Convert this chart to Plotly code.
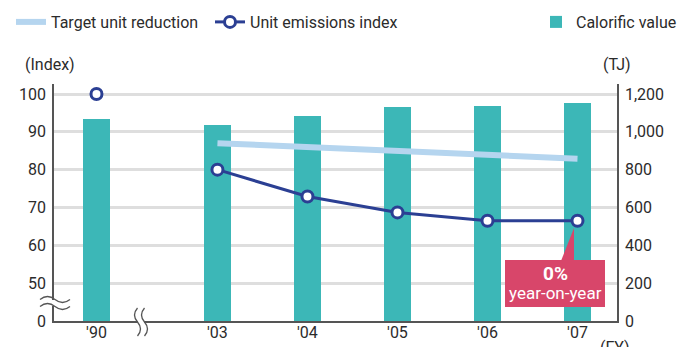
import plotly.graph_objects as go

# ---------------- data ----------------
years = ["'90", "'03", "'04", "'05", "'06", "'07"]
calorific_tj = [1068, 1036, 1084, 1131, 1137, 1154]
emissions_index = [100, 80, 72.9, 68.7, 66.5, 66.5]
target_years = ["'03", "'07"]
target_index = [87, 82.9]

tj_tickvals = [0, 200, 400, 600, 800, 1000, 1200]
tj_ticktext = ["0", "200", "400", "600", "800", "1,000", "1,200"]
index_tickvals = [40, 50, 60, 70, 80, 90, 100]   # axis broken: bottom shown as 0
index_ticktext = ["0", "50", "60", "70", "80", "90", "100"]

# ---------------- style ----------------
FONT = "Roboto, Liberation Sans, sans-serif"
TXT = "#2b2b2b"
TEAL = "#3cb7b7"
NAVY = "#2b3f93"
LIGHT = "#b5d5ef"
CRIMSON = "#d8466a"
AXIS = "#555555"
GRID = "#dedede"

W, H = 682, 347
L, R, T, B = 54, 617, 84, 321
BREAK_GAP = 0.344
xpos = {y: i + (BREAK_GAP if i > 0 else 0) for i, y in enumerate(years)}
xs = [xpos[y] for y in years]


def px(x):
    return x / W


def py(y):
    return (H - y) / H


fig = go.Figure()

fig.add_trace(go.Bar(
    x=xs, y=calorific_tj, width=0.3, marker=dict(color=TEAL, line=dict(width=0)),
    name="Calorific value", yaxis="y", legend="legend2", showlegend=True,
))

fig.add_trace(go.Scatter(
    x=[xpos[y] for y in target_years], y=target_index, mode="lines",
    line=dict(color=LIGHT, width=6), name="Target unit reduction", yaxis="y2",
    legend="legend",
))

fig.add_trace(go.Scatter(
    x=xs[1:], y=emissions_index[1:], mode="lines+markers",
    line=dict(color=NAVY, width=3),
    marker=dict(size=11, color="white", line=dict(color=NAVY, width=3)),
    name="Unit emissions index", yaxis="y2", legend="legend",
))
fig.add_trace(go.Scatter(
    x=xs[:1], y=emissions_index[:1], mode="markers",
    marker=dict(size=11, color="white", line=dict(color=NAVY, width=3)),
    name="Unit emissions index", yaxis="y2", showlegend=False,
))

shapes = []
# callout box + pointer
shapes.append(dict(type="rect", xref="paper", yref="paper",
                   x0=px(505), x1=px(605), y0=py(307), y1=py(260),
                   fillcolor=CRIMSON, line=dict(width=0), layer="above"))
shapes.append(dict(type="path", xref="paper", yref="paper",
                   path=f"M{px(561)},{py(261)} L{px(574)},{py(261)} L{px(574)},{py(228)} Z",
                   fillcolor=CRIMSON, line=dict(width=0), layer="above"))

# axis break marks
shapes.append(dict(type="rect", xref="paper", yref="paper",
                   x0=px(51), x1=px(57), y0=py(306), y1=py(300),
                   fillcolor="white", line=dict(width=0), layer="above"))
for yc in (299.5, 306.5):
    x0, x1 = 40, 70
    a = 3
    path = (f"M{px(x0)},{py(yc)} Q{px(x0+7.5)},{py(yc-a*2)} {px(x0+15)},{py(yc)} "
            f"T{px(x1)},{py(yc)}")
    shapes.append(dict(type="path", xref="paper", yref="paper", path=path,
                       line=dict(color=AXIS, width=1.3), layer="above"))
shapes.append(dict(type="rect", xref="paper", yref="paper",
                   x0=px(138), x1=px(144), y0=py(323), y1=py(319),
                   fillcolor="white", line=dict(width=0), layer="above"))
for xc in (137.5, 144.5):
    y0, y1 = 308, 336
    a = 3
    path = (f"M{px(xc)},{py(y0)} Q{px(xc-a*2)},{py(y0+7)} {px(xc)},{py(y0+14)} "
            f"T{px(xc)},{py(y1)}")
    shapes.append(dict(type="path", xref="paper", yref="paper", path=path,
                       line=dict(color=AXIS, width=1.3), layer="above"))

annotations = [
    dict(text="(Index)", xref="paper", yref="paper", x=px(50), y=py(65),
         xanchor="center", yanchor="middle", showarrow=False,
         font=dict(family=FONT, size=16, color=TXT)),
    dict(text="(TJ)", xref="paper", yref="paper", x=px(617), y=py(65),
         xanchor="center", yanchor="middle", showarrow=False,
         font=dict(family=FONT, size=16, color=TXT)),
    dict(text="(FY)", xref="paper", yref="paper", x=px(615), y=py(336),
         xanchor="center", yanchor="top", showarrow=False,
         font=dict(family=FONT, size=16, color=TXT)),
    dict(text="<b>0%</b>", xref="paper", yref="paper", x=px(555), y=py(273),
         xanchor="center", yanchor="middle", showarrow=False,
         font=dict(family=FONT, size=19, color="white")),
    dict(text="year-on-year", xref="paper", yref="paper", x=px(555), y=py(293),
         xanchor="center", yanchor="middle", showarrow=False,
         font=dict(family=FONT, size=17, color="white")),
]

fig.update_layout(
    width=W, height=H,
    margin=dict(l=0, r=0, t=0, b=0, pad=0),
    paper_bgcolor="white", plot_bgcolor="white",
    font=dict(family=FONT, size=16, color=TXT),
    bargap=0,
    xaxis=dict(domain=[L / W, R / W], range=[-0.472, 5.783], tickvals=xs,
               ticktext=years, showgrid=False, zeroline=False, showline=True,
               linecolor=AXIS, linewidth=1.5, ticks="", fixedrange=True,
               automargin=False, ticklabelstandoff=-4),
    yaxis=dict(domain=[(H - B) / H, (H - T) / H], range=[0, 1253], side="right",
               tickvals=tj_tickvals, ticktext=tj_ticktext, showgrid=True,
               gridcolor=GRID, gridwidth=2.5, zeroline=False, showline=True,
               linecolor=AXIS, linewidth=1.5, ticks="", ticklabelstandoff=3,
               automargin=False),
    yaxis2=dict(range=[40, 102.64], side="left", overlaying="y",
                tickvals=index_tickvals, ticktext=index_ticktext,
                showgrid=False, zeroline=False, showline=True,
                linecolor=AXIS, linewidth=1.5, ticks="", ticklabelstandoff=3,
                automargin=False),
    legend=dict(orientation="h", x=px(11), y=py(5), xanchor="left", yanchor="top",
                font=dict(family=FONT, size=16, color=TXT), bgcolor="rgba(0,0,0,0)",
                entrywidth=154, entrywidthmode="pixels", traceorder="normal"),
    legend2=dict(orientation="h", x=1, y=py(5), xanchor="right", yanchor="top",
                 font=dict(family=FONT, size=16, color=TXT), bgcolor="rgba(0,0,0,0)"),
    shapes=shapes,
    annotations=annotations,
)

fig.write_html("out.html")
